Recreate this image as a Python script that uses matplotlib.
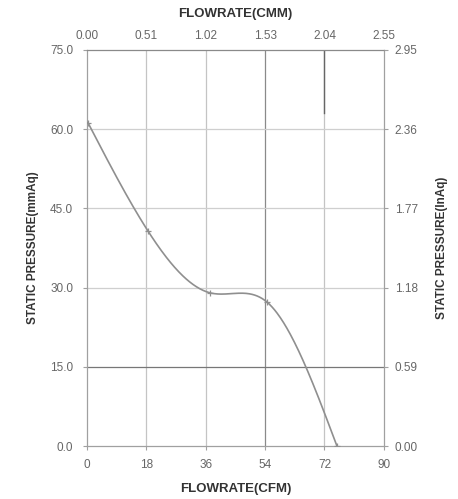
import numpy as np
import matplotlib
matplotlib.use("Agg")
import matplotlib.pyplot as plt

plt.rcParams["font.family"] = ["Liberation Sans", "DejaVu Sans"]

# Data
cfm = [0.3, 18.4, 37.4, 54.7, 75.8]
mmaq = [61.2, 40.8, 29.0, 27.2, 0.0]

x_ticks_cfm = [0, 18, 36, 54, 72, 90]
x_ticks_cmm = ["0.00", "0.51", "1.02", "1.53", "2.04", "2.55"]
y_ticks_mm = [0, 15, 30, 45, 60, 75]
y_labels_mm = ["0.0", "15.0", "30.0", "45.0", "60.0", "75.0"]
y_labels_in = ["0.00", "0.59", "1.18", "1.77", "2.36", "2.95"]


def natural_spline(x, y, n=300):
    x = np.asarray(x, float); y = np.asarray(y, float)
    k = len(x)
    h = np.diff(x)
    A = np.zeros((k, k)); b = np.zeros(k)
    A[0, 0] = A[-1, -1] = 1
    for i in range(1, k - 1):
        A[i, i - 1] = h[i - 1]
        A[i, i] = 2 * (h[i - 1] + h[i])
        A[i, i + 1] = h[i]
        b[i] = 6 * ((y[i + 1] - y[i]) / h[i] - (y[i] - y[i - 1]) / h[i - 1])
    M = np.linalg.solve(A, b)
    xs = np.linspace(x[0], x[-1], n)
    ys = np.empty_like(xs)
    for j, xv in enumerate(xs):
        i = min(np.searchsorted(x, xv, side="right") - 1, k - 2)
        t1 = x[i + 1] - xv; t0 = xv - x[i]
        ys[j] = (M[i] * t1 ** 3 / (6 * h[i]) + M[i + 1] * t0 ** 3 / (6 * h[i])
                 + (y[i] / h[i] - M[i] * h[i] / 6) * t1
                 + (y[i + 1] / h[i] - M[i + 1] * h[i] / 6) * t0)
    return xs, ys


fig = plt.figure(figsize=(4.58, 4.99), dpi=100)
ax = fig.add_axes([0.190, 0.106, 0.648, 0.794])

ax.set_xlim(0, 90)
ax.set_ylim(0, 75)

TICK_FS = 8.5
TITLE_FS = 9.5
LBL_C = "#666666"
TTL_C = "#333333"

# grid lines
for v in [18, 36, 72]:
    ax.axvline(v, color="#c4c4c4", lw=0.9, zorder=1)
ax.axvline(54, color="#8a8a8a", lw=0.9, zorder=1)
ax.axvline(72, ymin=63 / 75, ymax=1, color="#666666", lw=1.0, zorder=1)
for v in [30, 45, 60]:
    ax.axhline(v, color="#cfcfcf", lw=0.9, zorder=1)
ax.axhline(15, color="#777777", lw=0.9, zorder=1)

xs, ys = natural_spline(cfm, mmaq)
ax.plot(xs, ys, color="#8f8f8f", lw=1.2, zorder=3)
ax.plot(cfm, mmaq, linestyle="none", marker="+", ms=5, mew=0.9, color="#8f8f8f", zorder=4)

for s in ax.spines.values():
    s.set_color("#a0a0a0")
    s.set_linewidth(0.9)
ax.spines["top"].set_color("#8a8a8a")

ax.set_xticks(x_ticks_cfm)
ax.set_xticklabels([str(v) for v in x_ticks_cfm])
ax.set_yticks(y_ticks_mm)
ax.set_yticklabels(y_labels_mm)
ax.tick_params(axis="x", labelsize=TICK_FS, colors="#a0a0a0", labelcolor=LBL_C,
               length=3, width=0.8, pad=6)
ax.tick_params(axis="y", labelsize=TICK_FS, colors="#a0a0a0", labelcolor=LBL_C,
               length=3, width=0.8, pad=7)

ax.set_xlabel("FLOWRATE(CFM)", fontsize=TITLE_FS, fontweight="bold", color=TTL_C, labelpad=9)
ax.set_ylabel("STATIC PRESSURE(mmAq)", fontsize=8.5, fontweight="bold", color=TTL_C, labelpad=8)

axt = ax.twiny()
axt.set_xlim(0, 90)
axt.set_xticks(x_ticks_cfm)
axt.set_xticklabels(x_ticks_cmm)
axt.tick_params(axis="x", labelsize=TICK_FS, colors="#a0a0a0", labelcolor=LBL_C, length=0, pad=5.5)
axt.set_xlabel("FLOWRATE(CMM)", fontsize=TITLE_FS, fontweight="bold", color=TTL_C, labelpad=9.5)
for s in axt.spines.values():
    s.set_visible(False)

axr = ax.twinx()
axr.set_ylim(0, 75)
axr.set_yticks(y_ticks_mm)
axr.set_yticklabels(y_labels_in)
axr.tick_params(axis="y", labelsize=TICK_FS, colors="#a0a0a0", labelcolor=LBL_C,
                length=3, width=0.8, pad=5)
axr.set_ylabel("STATIC PRESSURE(InAq)", fontsize=8.5, fontweight="bold", color=TTL_C, labelpad=13)
for s in axr.spines.values():
    s.set_visible(False)

fig.savefig("out.png", dpi=100, facecolor="white")
